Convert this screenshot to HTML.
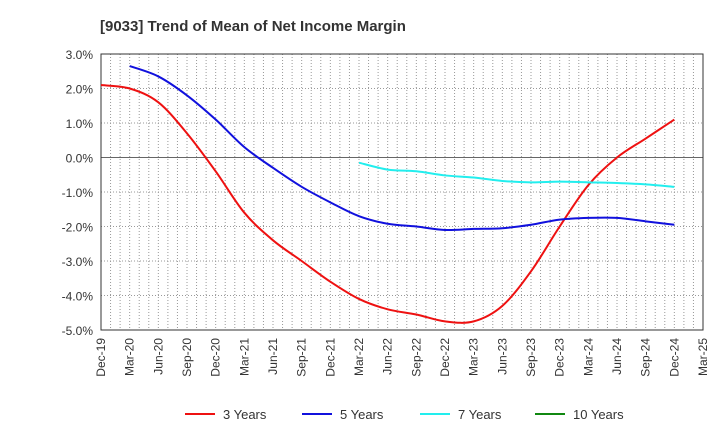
<!DOCTYPE html>
<html><head><meta charset="utf-8"><style>
body{margin:0;background:#fff;font-family:"Liberation Sans",Arial,sans-serif}
svg text{font-family:"Liberation Sans",Arial,sans-serif}
</style></head><body>
<svg id="chart" width="720" height="440" xmlns="http://www.w3.org/2000/svg">
<text x="100" y="31" font-size="15" font-weight="bold" fill="#333">[9033]  Trend of Mean of Net Income Margin</text>
<g id="grid"></g><g id="axes"></g><g id="series"></g><g id="legend"></g>
</svg>
<script>
const tickLabels=["Dec-19","Mar-20","Jun-20","Sep-20","Dec-20","Mar-21","Jun-21","Sep-21","Dec-21","Mar-22","Jun-22","Sep-22","Dec-22","Mar-23","Jun-23","Sep-23","Dec-23","Mar-24","Jun-24","Sep-24","Dec-24","Mar-25"];
const yTicks=[3,2,1,0,-1,-2,-3,-4,-5];
const years3=[2.1,2.0,1.6,0.7,-0.4,-1.6,-2.4,-3.0,-3.6,-4.1,-4.4,-4.55,-4.75,-4.75,-4.3,-3.3,-2.0,-0.8,0.0,0.55,1.1];
const years5=[null,2.65,2.35,1.8,1.1,0.3,-0.3,-0.85,-1.3,-1.7,-1.92,-2.0,-2.1,-2.07,-2.05,-1.95,-1.8,-1.75,-1.75,-1.85,-1.95];
const years7=[null,null,null,null,null,null,null,null,null,-0.15,-0.35,-0.4,-0.52,-0.58,-0.68,-0.72,-0.7,-0.72,-0.74,-0.78,-0.85];
const years10=[];
const L=101,R=703,T=54,B=330,yMax=3,yMin=-5,months=63;
const X=i=>L+(i*3)*(R-L)/months;
const Xm=m=>L+m*(R-L)/months;
const Y=v=>T+(yMax-v)*(B-T)/(yMax-yMin);
const NS="http://www.w3.org/2000/svg";
function mk(tag,attrs,parent){const e=document.createElementNS(NS,tag);for(const k in attrs)e.setAttribute(k,attrs[k]);document.getElementById(parent).appendChild(e);return e;}
for(let m=1;m<months;m++){
 const g=mk('line',{x1:Xm(m),x2:Xm(m),y1:T,y2:B,stroke:'#999','stroke-dasharray':'1,2','stroke-width':1},'grid');
 
 
}
yTicks.forEach(v=>{
 const g=mk('line',{x1:L,x2:R,y1:Y(v),y2:Y(v),stroke:v===0?'#666':'#999','stroke-dasharray':v===0?'':'1,2','stroke-width':1},'grid');
 
 
 const t=mk('text',{x:L-8,y:Y(v)+5,'text-anchor':'end','font-size':12,fill:'#333'},'axes');
 t.textContent=v.toFixed(1)+'%';
 
 
});
const fr=mk('rect',{x:L,y:T,width:R-L,height:B-T,fill:'none',stroke:'#333','stroke-width':1},'axes');


tickLabels.forEach((s,i)=>{
 const x=X(i)+4,y=B+8;
 const t=mk('text',{x:x,y:y,'text-anchor':'end','font-size':12,fill:'#333',transform:`rotate(-90 ${x} ${y})`},'axes');
 t.textContent=s;
 
 
});
function path(vals){
 const p=[];vals.forEach((v,i)=>{if(v!==null&&v!==undefined)p.push([X(i),Y(v)]);});
 if(p.length<2)return '';
 let d=`M${p[0][0]},${p[0][1]}`;
 for(let i=0;i<p.length-1;i++){
  const p0=p[Math.max(0,i-1)],p1=p[i],p2=p[i+1],p3=p[Math.min(p.length-1,i+2)];
  const c1=[p1[0]+(p2[0]-p0[0])/6,p1[1]+(p2[1]-p0[1])/6];
  const c2=[p2[0]-(p3[0]-p1[0])/6,p2[1]-(p3[1]-p1[1])/6];
  d+=` C${c1[0]},${c1[1]} ${c2[0]},${c2[1]} ${p2[0]},${p2[1]}`;
 }
 return d;
}
const series=[["3 Years",years3,"#ee1111","line-3-years"],["5 Years",years5,"#1111dd","line-5-years"],["7 Years",years7,"#22eeee","line-7-years"],["10 Years",years10,"#118811","line-10-years"]];
const lx=[185,302,420,535];
series.forEach((s,k)=>{
 const d=path(s[1]);
 if(d){const e=mk('path',{d:d,fill:'none',stroke:s[2],'stroke-width':2},'series');
  
  }
 const ln=mk('line',{x1:lx[k],x2:lx[k]+30,y1:414,y2:414,stroke:s[2],'stroke-width':2},'legend');
 
 
 const t=mk('text',{x:lx[k]+38,y:419,'font-size':13,fill:'#333'},'legend');
 t.textContent=s[0];
 
 
});
</script>
</body></html>
